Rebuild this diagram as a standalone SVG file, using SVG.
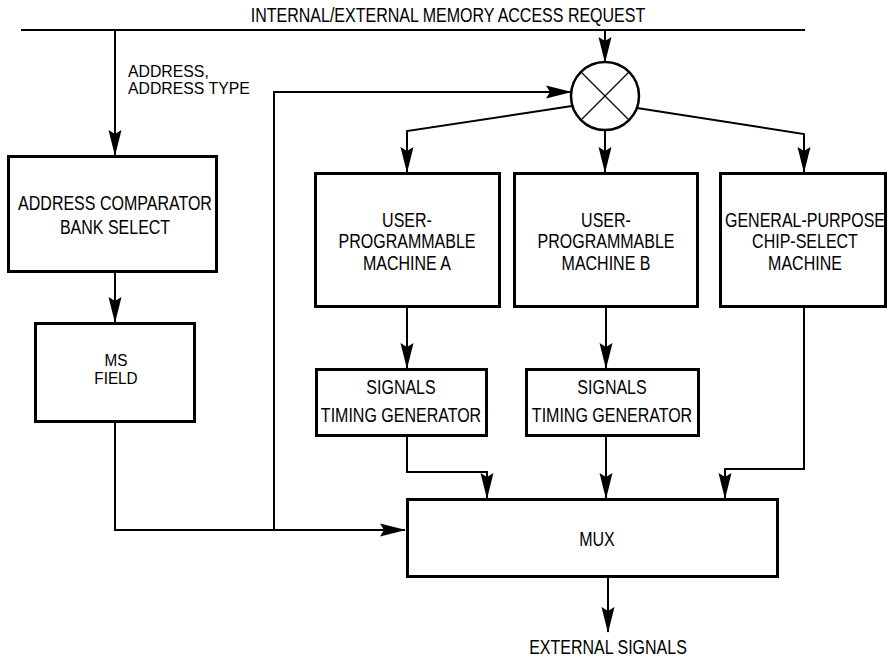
<svg xmlns="http://www.w3.org/2000/svg" width="888" height="658" viewBox="0 0 888 658">
<style>
.box{fill:#fff;stroke:#000;stroke-width:3}
.ln{fill:none;stroke:#000;stroke-width:2}
.t{font-family:"Liberation Sans",Arial,sans-serif;font-size:20px;fill:#000;text-anchor:middle}
.sm{font-size:17px}
.s{text-anchor:start}
</style>
<defs>
<marker id="arr" markerUnits="userSpaceOnUse" markerWidth="27" markerHeight="14" viewBox="0 0 27 14" refX="26" refY="7" orient="auto">
<path d="M27,7 L1,0.5 L5,7 L1,13.5 Z" fill="#000"/>
</marker>
</defs>
<rect width="888" height="658" fill="#fff"/>
<g id="connectors">
<path class="ln" d="M21,30 H805"/>
<path class="ln" d="M115,30 V155" marker-end="url(#arr)"/>
<path class="ln" d="M605,30 V62" marker-end="url(#arr)"/>
<path class="ln" d="M274,530 V92 H571" marker-end="url(#arr)"/>
<path class="ln" d="M572,106 L407,131 V172" marker-end="url(#arr)"/>
<path class="ln" d="M605,130 V172" marker-end="url(#arr)"/>
<path class="ln" d="M637,108 L804,134 V172" marker-end="url(#arr)"/>
<path class="ln" d="M115,273 V322" marker-end="url(#arr)"/>
<path class="ln" d="M407,307 V368" marker-end="url(#arr)"/>
<path class="ln" d="M606,307 V368" marker-end="url(#arr)"/>
<path class="ln" d="M407,436 V472 H487 V498" marker-end="url(#arr)"/>
<path class="ln" d="M606,436 V498" marker-end="url(#arr)"/>
<path class="ln" d="M804,307 V469 H725 V498" marker-end="url(#arr)"/>
<path class="ln" d="M115,423 V530 H405" marker-end="url(#arr)"/>
<path class="ln" d="M608,577 V632" marker-end="url(#arr)"/>
</g>
<g id="labels">
<text class="t" transform="translate(448,22) scale(0.8,1)">INTERNAL/EXTERNAL MEMORY ACCESS REQUEST</text>
<text class="t sm s" transform="translate(128,77) scale(0.93,1)"><tspan x="0" y="0">ADDRESS,</tspan><tspan x="0" y="17">ADDRESS TYPE</tspan></text>
<text class="t" transform="translate(608,654) scale(0.8,1)">EXTERNAL SIGNALS</text>
</g>
<g id="mixer">
<circle cx="605" cy="96" r="34" fill="#fff" stroke="#000" stroke-width="2.5"/>
<path d="M581,72 L629,120 M629,72 L581,120" stroke="#000" stroke-width="1.2" fill="none"/>
</g>
<g id="addr-comparator">
<rect class="box" x="8.5" y="156.5" width="208" height="115"/>
<text class="t" transform="translate(115,210) scale(0.8,1)"><tspan x="0" y="0">ADDRESS COMPARATOR</tspan><tspan x="0" y="24">BANK SELECT</tspan></text>
</g>
<g id="ms-field">
<rect class="box" x="35.5" y="323.5" width="159" height="98"/>
<text class="t sm" transform="translate(116,366) scale(0.9,1)"><tspan x="0" y="0">MS</tspan><tspan x="0" y="18">FIELD</tspan></text>
</g>
<g id="upm-a">
<rect class="box" x="315.5" y="173.5" width="184" height="133"/>
<text class="t" transform="translate(407,227) scale(0.8,1)"><tspan x="0" y="0">USER-</tspan><tspan x="0" y="21.5">PROGRAMMABLE</tspan><tspan x="0" y="43">MACHINE A</tspan></text>
</g>
<g id="upm-b">
<rect class="box" x="514.5" y="173.5" width="183" height="133"/>
<text class="t" transform="translate(606,227) scale(0.8,1)"><tspan x="0" y="0">USER-</tspan><tspan x="0" y="21.5">PROGRAMMABLE</tspan><tspan x="0" y="43">MACHINE B</tspan></text>
</g>
<g id="gpcm">
<rect class="box" x="720.5" y="173.5" width="165" height="133"/>
<text class="t" transform="translate(805,227) scale(0.8,1)"><tspan x="0" y="0">GENERAL-PURPOSE</tspan><tspan x="0" y="21.5">CHIP-SELECT</tspan><tspan x="0" y="43">MACHINE</tspan></text>
</g>
<g id="timing-a">
<rect class="box" x="316.5" y="369.5" width="170" height="66"/>
<text class="t" transform="translate(401,394) scale(0.8,1)"><tspan x="0" y="0">SIGNALS</tspan><tspan x="0" y="28">TIMING GENERATOR</tspan></text>
</g>
<g id="timing-b">
<rect class="box" x="526.5" y="369.5" width="172" height="66"/>
<text class="t" transform="translate(612,394) scale(0.8,1)"><tspan x="0" y="0">SIGNALS</tspan><tspan x="0" y="28">TIMING GENERATOR</tspan></text>
</g>
<g id="mux">
<rect class="box" x="407.5" y="499.5" width="370" height="77"/>
<text class="t" transform="translate(597,546) scale(0.8,1)">MUX</text>
</g>
</svg>
